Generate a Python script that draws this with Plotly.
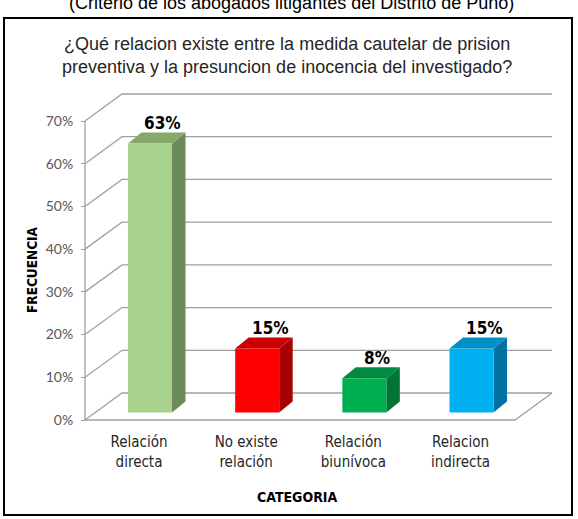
import plotly.graph_objects as go

# ---------------- data ----------------
categories = ["Relación<br>directa", "No existe<br>relación", "Relación<br>biunívoca", "Relacion<br>indirecta"]
values = [63, 15, 8, 15]
value_labels = ["63%", "15%", "8%", "15%"]
y_ticks = [0, 10, 20, 30, 40, 50, 60, 70]
y_tick_labels = ["0%", "10%", "20%", "30%", "40%", "50%", "60%", "70%"]

# ---------------- styles ----------------
front_colors = ["#A9D18E", "#FF0000", "#00B050", "#00B0F0"]
top_colors = ["#86A86B", "#CC0000", "#008B40", "#0090C8"]
side_colors = ["#6E8A5A", "#A60000", "#007535", "#0073A3"]
GRID = "#A0A0A0"
NARROW = "Liberation Sans Narrow, Arial Narrow, DejaVu Sans Condensed, sans-serif"

W, H = 578, 519
# layout geometry (pixels -> data units)
X0PX, XSTEP = 150.0, 107.17
Y0PX, YSCALE = 420.0, 299.0 / 70.0
x_range = [(0 - X0PX) / XSTEP, (W - X0PX) / XSTEP]
y_range = [(Y0PX - H) / YSCALE, Y0PX / YSCALE]
WALL_DX, WALL_DY = 37 / XSTEP, 27 / YSCALE
FLOOR_L, FLOOR_R = (85 - X0PX) / XSTEP, (515 - X0PX) / XSTEP
BASE = 7.5 / YSCALE
HALF_W = 22 / XSTEP
BAR_DX, BAR_DY = 13.5 / XSTEP, 11 / YSCALE
LABEL_SHIFT = 11 / XSTEP  # category label shift toward floor front

fig = go.Figure()

# walls / floor grid
gx, gy = [], []
for t in y_ticks:
    gx += [FLOOR_L, FLOOR_L + WALL_DX, FLOOR_R + WALL_DX, None]
    gy += [t, t + WALL_DY, t + WALL_DY, None]
gx += [FLOOR_L, FLOOR_L, None]
gy += [y_ticks[0], y_ticks[-1], None]
gx += [FLOOR_L, FLOOR_R, FLOOR_R + WALL_DX, None]
gy += [0, 0, WALL_DY, None]
fig.add_trace(go.Scatter(x=gx, y=gy, mode="lines", line=dict(color=GRID, width=1.3),
                         hoverinfo="skip", showlegend=False))

# 3D-looking bars
for i, v in enumerate(values):
    xl, xr_ = i - HALF_W, i + HALF_W
    b, t = BASE, BASE + v
    # side face
    fig.add_trace(go.Scatter(
        x=[xr_, xr_ + BAR_DX, xr_ + BAR_DX, xr_, xr_],
        y=[b, b + BAR_DY, t + BAR_DY, t, b],
        fill="toself", mode="lines", line=dict(width=0, color=side_colors[i]),
        fillcolor=side_colors[i], hoverinfo="skip", showlegend=False))
    # top face
    fig.add_trace(go.Scatter(
        x=[xl, xr_, xr_ + BAR_DX, xl + BAR_DX, xl],
        y=[t, t, t + BAR_DY, t + BAR_DY, t],
        fill="toself", mode="lines", line=dict(width=0, color=top_colors[i]),
        fillcolor=top_colors[i], hoverinfo="skip", showlegend=False))
    # front face
    fig.add_trace(go.Scatter(
        x=[xl, xr_, xr_, xl, xl],
        y=[b, b, t, t, b],
        fill="toself", mode="lines", line=dict(width=0, color=front_colors[i]),
        fillcolor=front_colors[i], name=categories[i].replace("<br>", " "),
        showlegend=False))
    # value label
    fig.add_annotation(x=i + 0.12, y=t + BAR_DY + 2.3, xref="x", yref="y",
                       text=f"<b>{value_labels[i]}</b>", showarrow=False,
                       yanchor="middle", xanchor="center",
                       font=dict(family=NARROW, size=17, color="#000000"))

fig.update_layout(
    width=W, height=H,
    margin=dict(l=0, r=0, t=0, b=0),
    paper_bgcolor="white", plot_bgcolor="white",
    showlegend=False,
    xaxis=dict(range=x_range, domain=[0, 1], anchor="free", position=(H - Y0PX) / H,
               tickvals=[i - LABEL_SHIFT for i in range(len(categories))],
               ticktext=categories, showgrid=False, zeroline=False, showline=False,
               ticks="", ticklabelstandoff=11,
               tickfont=dict(family=NARROW, size=15, color="#262626"), fixedrange=True),
    yaxis=dict(range=y_range, domain=[0, 1], anchor="free", position=85 / W,
               tickvals=y_ticks, ticktext=y_tick_labels, showgrid=False, zeroline=False,
               showline=False, ticks="outside", ticklen=4, tickcolor=GRID, tickwidth=1.3,
               ticklabelstandoff=5,
               tickfont=dict(family="Lato, Carlito, sans-serif", size=14, color="#595959"),
               fixedrange=True),
)

# outer frame
fig.add_shape(type="rect", xref="paper", yref="paper",
              x0=4 / W, x1=572 / W, y0=1 - 515 / H, y1=1 - 18 / H,
              line=dict(color="#000000", width=2), fillcolor="rgba(0,0,0,0)")

# texts
fig.add_annotation(xref="paper", yref="paper", x=291 / W, y=1 - 3 / H,
                   text="(Criterio de los abogados litigantes del Distrito de Puno)",
                   showarrow=False, xanchor="center", yanchor="middle",
                   font=dict(family="Liberation Sans, Arial, sans-serif", size=18, color="#000000"))
fig.add_annotation(xref="paper", yref="paper", x=287 / W, y=1 - 56 / H,
                   text="¿Qué relacion existe entre la medida cautelar de prision<br>"
                        "preventiva y la presuncion de inocencia del investigado?",
                   showarrow=False, xanchor="center", yanchor="middle",
                   font=dict(family="Liberation Sans, Arial, sans-serif", size=18, color="#262626"))
fig.add_annotation(xref="paper", yref="paper", x=297 / W, y=1 - 497 / H,
                   text="<b>CATEGORIA</b>", showarrow=False, xanchor="center", yanchor="middle",
                   font=dict(family=NARROW, size=14, color="#000000"))
fig.add_annotation(xref="paper", yref="paper", x=32 / W, y=1 - 270 / H,
                   text="<b>FRECUENCIA</b>", showarrow=False, textangle=-90,
                   xanchor="center", yanchor="middle",
                   font=dict(family=NARROW, size=13.5, color="#000000"))

fig.write_html("out.html")
